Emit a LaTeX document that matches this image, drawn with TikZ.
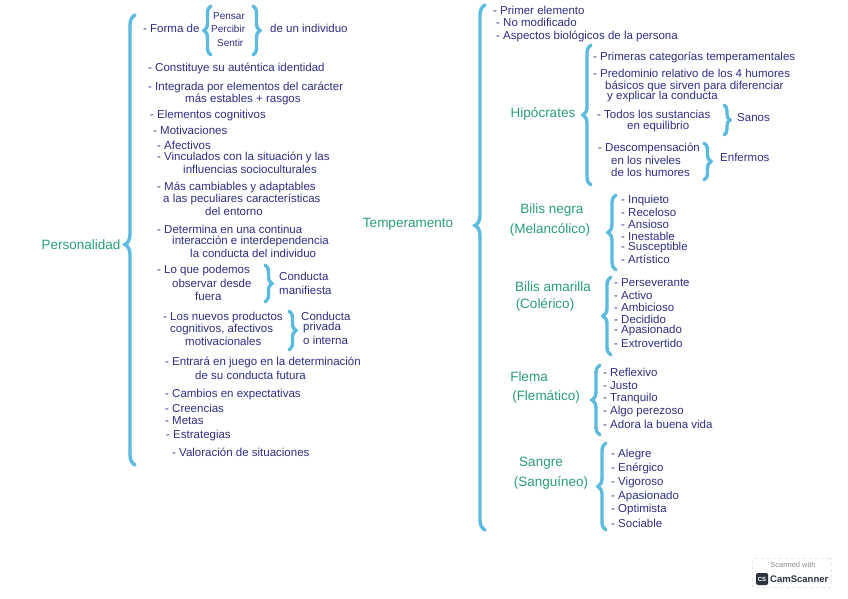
\documentclass[tikz,border=0pt]{standalone}
\usepackage{fontspec}
\setmainfont{Liberation Sans}
\usetikzlibrary{decorations.pathreplacing, positioning}
\definecolor{cnavy}{HTML}{2E2F86}
\definecolor{cgreen}{HTML}{2A9C7A}
\definecolor{cblue}{HTML}{5DBBDF}
\definecolor{cgrey}{HTML}{8A8A8A}
\definecolor{cdark}{HTML}{2B3340}
\tikzset{
  item/.style={anchor=west, inner sep=0pt, text=cnavy, font=\fontsize{11.5}{12}\selectfont},
  subitem/.style={item, font=\fontsize{10}{11}\selectfont},
  title/.style={inner sep=0pt, text=cgreen, font=\fontsize{13.5}{14}\selectfont},
  brace/.style={draw=cblue, line width=3.4pt, line cap=round, decorate, decoration={brace, amplitude=#1}},
  brace/.default=6pt,
}
\begin{document}
\begin{tikzpicture}[x=1pt, y=-1pt]
  \useasboundingbox[fill=white] (0,0) rectangle (848,599);
  % ---- personalidad
  \node[title] (pers) at (81,245) {Personalidad};
  \coordinate (pA) at (135,465); \coordinate (pB) at (135,15);
  \draw[brace=10pt, decoration={aspect=0.49}] (pA) -- (pB);
  \node[item] (forma) at (143,28) {- Forma de};
  \coordinate (fA) at (211,55); \coordinate (fB) at (211,6);
  \draw[brace=7pt] (fA) -- (fB);
  \node[subitem] (pensar) at (213,16) {Pensar};
  \node[subitem] (percibir) at (211,29) {Percibir};
  \node[subitem] (sentir) at (217,43) {Sentir};
  \coordinate (gA) at (253,6); \coordinate (gB) at (253,55);
  \draw[brace=7pt] (gA) -- (gB);
  \node[item] (indiv) at (270,28) {de un individuo};
  \node[item] (ident) at (148,68) {- Constituye su auténtica identidad};
  \node[item] (integ) at (148,87) {- Integrada por elementos del carácter};
  \node[item] (integb) at (185,99) {más estables + rasgos};
  \node[item] (cogn) at (150,116) {- Elementos cognitivos};
  \node[item] (motiv) at (153,130) {- Motivaciones};
  \node[item] (afect) at (157,145) {- Afectivos};
  \node[item] (vinc) at (157,157) {- Vinculados con la situación y las};
  \node[item] (vincb) at (183,169) {influencias socioculturales};
  \node[item] (camb) at (157,187) {- Más cambiables y adaptables};
  \node[item] (cambb) at (163,199) {a las peculiares características};
  \node[item] (cambc) at (205,211) {del entorno};
  \node[item] (deter) at (157,229) {- Determina en una continua};
  \node[item] (deterb) at (172,241) {interacción e interdependencia};
  \node[item] (deterc) at (190,253) {la conducta del individuo};
  \node[item] (obs) at (157,271) {- Lo que podemos};
  \node[item] (obsb) at (172,283) {observar desde};
  \node[item] (obsc) at (195,296) {fuera};
  \coordinate (mA) at (265,265); \coordinate (mB) at (265,302);
  \draw[brace=7pt] (mA) -- (mB);
  \node[item] (manif) at (279,276) {Conducta};
  \node[item] (manifb) at (279,290) {manifiesta};
  \node[item] (prod) at (163,318) {- Los nuevos productos};
  \node[item] (prodb) at (170,330) {cognitivos, afectivos};
  \node[item] (prodc) at (185,341) {motivacionales};
  \coordinate (iA) at (289,311); \coordinate (iB) at (289,350);
  \draw[brace=7pt] (iA) -- (iB);
  \node[item] (priv) at (301,316) {Conducta};
  \node[item] (privb) at (303,328) {privada};
  \node[item] (privc) at (303,340) {o interna};
  \node[item] (juego) at (165,362) {- Entrará en juego en la determinación};
  \node[item] (juegob) at (195,375) {de su conducta futura};
  \node[item] (expec) at (165,395) {- Cambios en expectativas};
  \node[item] (creen) at (165,408) {- Creencias};
  \node[item] (metas) at (165,421) {- Metas};
  \node[item] (estra) at (166,436) {- Estrategias};
  \node[item] (valor) at (172,452) {- Valoración de situaciones};
  % ---- temperamento
  \node[title] (temp) at (408,224) {Temperamento};
  \coordinate (tA) at (485,530); \coordinate (tB) at (485,5);
  \draw[brace=10pt, decoration={aspect=0.58}] (tA) -- (tB);
  \node[item] (prim) at (493,10) {- Primer elemento};
  \node[item] (nomod) at (496,22) {- No modificado};
  \node[item] (biol) at (496,36) {- Aspectos biológicos de la persona};
  % ---- hipocrates
  \node[title] (hipo) at (543,114) {Hipócrates};
  \coordinate (hA) at (591,185); \coordinate (hB) at (591,45);
  \draw[brace=8pt] (hA) -- (hB);
  \node[item] (categ) at (593,57) {- Primeras categorías temperamentales};
  \node[item] (predo) at (593,73) {- Predominio relativo de los 4 humores};
  \node[item] (predob) at (605,86) {básicos que sirven para diferenciar};
  \node[item] (predoc) at (607,97) {y explicar la conducta};
  \node[item] (sust) at (597,114) {- Todos los sustancias};
  \node[item] (sustb) at (627,127) {en equilibrio};
  \coordinate (sA) at (724,105); \coordinate (sB) at (724,135);
  \draw[brace=6pt] (sA) -- (sB);
  \node[item] (sanos) at (737,118) {Sanos};
  \node[item] (desc) at (598,148) {- Descompensación};
  \node[item] (descb) at (611,160) {en los niveles};
  \node[item] (descc) at (611,172) {de los humores};
  \coordinate (eA) at (704,143); \coordinate (eB) at (704,180);
  \draw[brace=7pt] (eA) -- (eB);
  \node[item] (enfer) at (720,157) {Enfermos};
  % ---- cuatro humores
  \node[title] (bneg) at (552,210) {Bilis negra};
  \node[title] (melan) at (550,230) {(Melancólico)};
  \coordinate (nA) at (616,270); \coordinate (nB) at (616,195);
  \draw[brace=8pt] (nA) -- (nB);
  \foreach \t [count=\i] in {Inquieto, Receloso, Ansioso, Inestable, Susceptible, Artístico}
    \node[item] (mel\i) at (621,189+11.8*\i) {- \t};
  \node[title] (bama) at (553,287) {Bilis amarilla};
  \node[title] (coler) at (545,305) {(Colérico)};
  \coordinate (aA) at (611,355); \coordinate (aB) at (611,277);
  \draw[brace=8pt] (aA) -- (aB);
  \foreach \t [count=\i] in {Perseverante, Activo, Ambicioso, Decidido, Apasionado, Extrovertido}
    \node[item] (col\i) at (614,271+12*\i) {- \t};
  \node[title] (flema) at (529,377) {Flema};
  \node[title] (flem) at (546,397) {(Flemático)};
  \coordinate (lA) at (600,435); \coordinate (lB) at (600,365);
  \draw[brace=8pt] (lA) -- (lB);
  \foreach \t [count=\i] in {Reflexivo, Justo, Tranquilo, Algo perezoso, Adora la buena vida}
    \node[item] (fle\i) at (603,360+12.8*\i) {- \t};
  \node[title] (sang) at (541,463) {Sangre};
  \node[title] (sangu) at (551,483) {(Sanguíneo)};
  \coordinate (gsA) at (606,530); \coordinate (gsB) at (606,443);
  \draw[brace=8pt] (gsA) -- (gsB);
  \foreach \t [count=\i] in {Alegre, Enérgico, Vigoroso, Apasionado, Optimista, Sociable}
    \node[item] (san\i) at (611,441+13.8*\i) {- \t};
  % ---- sello
  \node[draw=cgrey!60, dashed, rounded corners=2pt, minimum width=79pt, minimum height=29pt, inner sep=0pt] (scan) at (792,573) {};
  \node[font=\fontsize{7.5}{8}\selectfont, text=cgrey, inner sep=0pt] (scw) at (793,565) {Scanned with};
  \node[fill=cdark, rounded corners=1.5pt, text=white, font=\fontsize{6}{6}\selectfont\bfseries, minimum size=12pt, inner sep=0pt] (cslogo) at (762,579) {CS};
  \node[anchor=west, font=\fontsize{9.5}{10}\selectfont\bfseries, text=cdark, inner sep=0pt] (csname) at (770,579) {CamScanner};
\end{tikzpicture}
\end{document}
